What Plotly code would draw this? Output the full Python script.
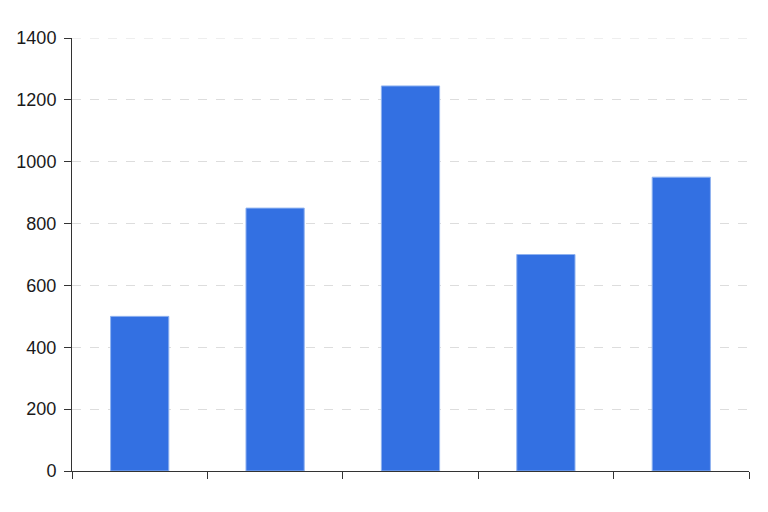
import plotly.graph_objects as go

categories = ["A", "B", "C", "D", "E"]
values = [500, 850, 1245, 700, 950]
y_ticks = [0, 200, 400, 600, 800, 1000, 1200, 1400]

fig = go.Figure(go.Bar(
    x=categories, y=values,
    marker=dict(color="#3370E2", line=dict(color="#8FB2F0", width=1)),
    width=0.43,
))
fig.update_layout(
    width=768, height=512,
    margin=dict(l=64, r=27, t=30, b=49),
    paper_bgcolor="white", plot_bgcolor="white",
    showlegend=False,
    font=dict(family="Liberation Sans, Arial, sans-serif", size=18, color="#1a1a1a"),
)
fig.update_xaxes(
    showticklabels=False, ticks="outside", tickson="boundaries", ticklen=7,
    tickcolor="#333", showline=True, linecolor="#333", linewidth=1,
    showgrid=False, zeroline=False, automargin=False,
)
fig.update_yaxes(
    range=[0, y_ticks[-1]], tickvals=y_ticks, ticks="outside", ticklen=7, tickcolor="#333",
    ticklabelstandoff=4, automargin=False,
    showline=True, linecolor="#333", linewidth=1,
    showgrid=True, gridcolor="#DDDDDD", griddash="dash", gridwidth=1,
    zeroline=False, tickfont=dict(size=18, color="#1a1a1a"),
)
# top gridline (plotly drops the grid line at the range edge)
fig.add_shape(type="line", xref="paper", x0=0, x1=1, yref="y", y0=y_ticks[-1], y1=y_ticks[-1],
              line=dict(color="#DDDDDD", width=1, dash="dash"), layer="below")
fig.write_html("out.html")
